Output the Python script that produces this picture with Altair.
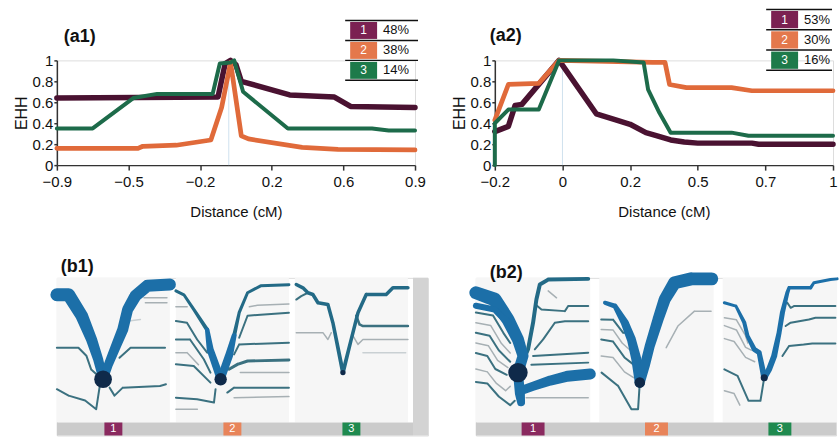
import altair as alt
import pandas as pd

# ---------------- EHH panels (a1, a2) ----------------
HAPLO = ["1", "2", "3"]
LINE_COLORS = ["#4a1231", "#e06a3a", "#1d6b4a"]
BOX_COLORS = ["#7b2152", "#e4784c", "#1d7a4a"]
BAR_BOX_COLORS = ["#8a2a5f", "#e8845a", "#1f8a4f"]
EHH_TICKS = [0, 0.2, 0.4, 0.6, 0.8, 1]

A1_TICKS = [-0.9, -0.5, -0.2, 0.2, 0.6, 0.9]
A1_PCT = ["48%", "38%", "14%"]
A1_CORE_X = -0.04
A1_X1 = [-0.9, -0.1, -0.06, -0.03, 0.0, 0.03, 0.3, 0.55, 0.63, 0.9]
A1_Y1 = [0.64, 0.65, 0.97, 1.0, 0.96, 0.80, 0.67, 0.65, 0.56, 0.55]
A1_X2 = [-0.9, -0.46, -0.44, -0.3, -0.14, -0.08, -0.03, 0.03, 0.07, 0.37, 0.57, 0.9]
A1_Y2 = [0.16, 0.16, 0.18, 0.19, 0.24, 0.55, 0.98, 0.28, 0.25, 0.17, 0.15, 0.145]
A1_X3 = [-0.9, -0.7, -0.48, -0.38, -0.13, -0.09, -0.03, -0.01, 0.04, 0.29, 0.72, 0.79, 0.9]
A1_Y3 = [0.35, 0.35, 0.64, 0.68, 0.68, 0.97, 0.98, 1.0, 0.70, 0.35, 0.35, 0.33, 0.33]

A2_TICKS = [-0.2, 0, 0.2, 0.5, 0.7, 1.0]
A2_PCT = ["53%", "30%", "16%"]
A2_CORE_X = 0.0
A2_X1 = [-0.2, -0.16, -0.14, -0.12, -0.01, 0.1, 0.16, 0.2, 0.27, 0.32, 0.38, 0.44, 0.5, 0.66, 0.68, 1.0]
A2_Y1 = [0.32, 0.37, 0.57, 0.58, 1.0, 0.49, 0.43, 0.39, 0.31, 0.28, 0.24, 0.22, 0.21, 0.21, 0.20, 0.20]
A2_X2 = [-0.2, -0.16, -0.07, -0.01, 0.3, 0.355, 0.375, 0.45, 0.6, 0.66, 1.0]
A2_Y2 = [0.43, 0.77, 0.78, 1.0, 0.98, 0.98, 0.77, 0.74, 0.74, 0.71, 0.71]
A2_X3 = [-0.2, -0.2, -0.16, -0.07, -0.01, 0.15, 0.26, 0.28, 0.33, 0.38, 0.6, 0.65, 1.0]
A2_Y3 = [0.0, 0.40, 0.53, 0.53, 1.0, 1.0, 0.98, 0.72, 0.50, 0.31, 0.31, 0.28, 0.28]

# ---------------- bifurcation diagrams (b1, b2) ----------------
# each path: (style, [(x, y[, width]), ...]) in panel-local units (0..1)
S11_CORE = (0.409, 0.299, 10)
S11_PATHS = [
    ("teal", [(0, 0.517), (0.191, 0.517), (0.261, 0.462), (0.304, 0.366), (0.365, 0.324)]),
    ("teal", [(0.554, 0.448), (0.652, 0.517), (0.957, 0.517)]),
    ("teal", [(0, 0.23), (0.104, 0.186), (0.25, 0.152), (0.348, 0.092), (0.38, 0.255)]),
    ("teal", [(0.467, 0.241), (0.51, 0.186), (0.583, 0.241), (0.913, 0.253), (0.965, 0.264)]),
    ("gray", [(0.771, 0.862), (0.974, 0.862)]),
    ("gray", [(0.783, 0.828), (0.974, 0.828)]),
    ("light", [(0.652, 0.703), (0.739, 0.712)]),
    ("thick", [(0, 0.883, 13), (0.104, 0.883, 13), (0.22, 0.738, 12.5), (0.307, 0.574, 11), (0.365, 0.437, 10), (0.409, 0.299, 9)]),
    ("thick", [(0.409, 0.299, 9), (0.452, 0.393, 9), (0.524, 0.531, 10), (0.583, 0.643, 11), (0.626, 0.781, 11), (0.696, 0.876, 12), (0.8, 0.945, 12), (1.0, 0.954, 12)]),
]
S12_CORE = (0.396, 0.299, 7)
S12_PATHS = [
    ("teal", [(0.56, 0.586), (0.634, 0.738), (0.75, 0.745), (1, 0.759)]),
    ("gray", [(0.65, 0.80), (0.72, 0.81), (1, 0.82)]),
    ("teal", [(0.515, 0.471), (0.56, 0.54), (1, 0.552)]),
    ("teal", [(0.47, 0.368, 3), (0.545, 0.402, 3), (0.634, 0.425, 3), (1, 0.432, 3)]),
    ("gray", [(0.57, 0.345), (1, 0.345)]),
    ("teal", [(0.455, 0.207), (0.515, 0.241), (1, 0.241)]),
    ("gray", [(0.515, 0.172), (1, 0.179)]),
    ("teal", [(0, 0.701), (0.098, 0.69), (0.188, 0.574), (0.277, 0.483)]),
    ("gray", [(0, 0.8), (0.1, 0.8)]),
    ("teal", [(0, 0.574), (0.125, 0.574), (0.247, 0.437), (0.306, 0.345)]),
    ("teal", [(0, 0.402), (0.158, 0.391), (0.306, 0.276)]),
    ("teal", [(0, 0.172), (0.188, 0.161), (0.337, 0.138), (0.351, 0.23)]),
    ("gray", [(0, 0.092), (0.19, 0.092)]),
    ("gray", [(0, 0.483), (0.1, 0.483), (0.2, 0.4)]),
    ("mid", [(0.0, 0.91, 3), (0.071, 0.883, 3), (0.161, 0.779, 3.2), (0.277, 0.641, 4)]),
    ("mid", [(0.515, 0.6, 4), (0.56, 0.759, 3.2), (0.634, 0.897, 3), (0.75, 0.945, 3), (1.0, 0.952, 3)]),
    ("thick", [(0.277, 0.641, 4.5), (0.304, 0.503, 7), (0.396, 0.299, 8)]),
    ("thick", [(0.396, 0.299, 8), (0.47, 0.462, 8), (0.515, 0.6, 5)]),
]
S13_CORE = (0.425, 0.345, 3)
S13_PATHS = [
    ("teal", [(0.543, 0.738, 2.5), (0.572, 0.678, 2.5), (0.602, 0.667, 2.5), (1, 0.667, 2.5)]),
    ("gray", [(0.513, 0.6), (0.558, 0.54), (0.602, 0.574), (1, 0.574)]),
    ("light", [(0.602, 0.483), (0.98, 0.483)]),
    ("gray", [(0.012, 0.621), (0.248, 0.621), (0.292, 0.574), (0.322, 0.621)]),
    ("teal", [(0.012, 0.85), (0.056, 0.874), (0.115, 0.897)]),
    ("mid", [(0.012, 0.954, 3.5), (0.071, 0.931, 3.5), (0.115, 0.897, 3.5), (0.159, 0.885, 3.5), (0.204, 0.828, 3.5), (0.292, 0.816, 3.5), (0.336, 0.69, 3.5), (0.425, 0.345, 4)]),
    ("mid", [(0.425, 0.345, 4), (0.498, 0.574, 3.5), (0.558, 0.759, 3.5), (0.631, 0.885, 3.5), (0.808, 0.885, 3.5), (0.867, 0.931, 3.5), (1.0, 0.931, 3.5)]),
]
S21_CORE = (0.368, 0.345, 11)
S21_PATHS = [
    ("teal", [(0.529, 0.81), (0.573, 0.781), (0.778, 0.77), (0.807, 0.805), (0.982, 0.805)]),
    ("teal", [(0.515, 0.506), (0.588, 0.575), (0.69, 0.69), (0.778, 0.70), (0.982, 0.70)]),
    ("teal", [(0.50, 0.46), (0.982, 0.483)]),
    ("teal", [(0.485, 0.40), (0.982, 0.414)]),
    ("gray", [(0.44, 0.172), (0.982, 0.172)]),
    ("gray", [(0.632, 0.91), (0.705, 0.862)]),
    ("teal", [(0, 0.76), (0.15, 0.74), (0.24, 0.62), (0.30, 0.55)]),
    ("gray", [(0, 0.69), (0.13, 0.67), (0.22, 0.55), (0.30, 0.48)]),
    ("teal", [(0, 0.62), (0.12, 0.6), (0.2, 0.5), (0.3, 0.42)]),
    ("gray", [(0, 0.55), (0.11, 0.53), (0.19, 0.43), (0.28, 0.38)]),
    ("teal", [(0, 0.48), (0.1, 0.46), (0.17, 0.37), (0.27, 0.33)]),
    ("gray", [(0, 0.37), (0.1, 0.35), (0.18, 0.27), (0.26, 0.22), (0.3, 0.25)]),
    ("teal", [(0, 0.28), (0.1, 0.27), (0.2, 0.18), (0.3, 0.12), (0.34, 0.15)]),
    ("mid", [(0.368, 0.345, 4), (0.456, 0.506, 4), (0.5, 0.69, 4), (0.529, 0.85, 4), (0.559, 0.954, 4), (0.632, 0.988, 4), (0.982, 0.993, 4)]),
    ("thick", [(0, 0.897, 13), (0.164, 0.85, 14), (0.281, 0.712, 13), (0.368, 0.574, 12), (0.412, 0.46, 11), (0.368, 0.345, 11)]),
    ("thick", [(0, 0.807, 6), (0.164, 0.781, 6), (0.281, 0.69, 7)]),
    ("thick", [(0.368, 0.345, 10), (0.385, 0.2, 10), (0.395, 0.14, 8)]),
    ("thick", [(0.39, 0.22, 9), (0.5, 0.25, 9), (0.65, 0.29, 10), (0.8, 0.32, 11), (1.0, 0.335, 11)]),
]
S22_CORE = (0.354, 0.276, 6)
S22_PATHS = [
    ("gray", [(0.585, 0.517), (0.687, 0.667), (0.832, 0.77), (0.977, 0.77)]),
    ("teal", [(0.017, 0.712), (0.122, 0.71), (0.209, 0.62), (0.25, 0.62)]),
    ("gray", [(0.017, 0.643), (0.12, 0.64), (0.2, 0.55), (0.27, 0.5)]),
    ("teal", [(0.017, 0.574), (0.12, 0.56), (0.22, 0.45), (0.3, 0.4)]),
    ("gray", [(0.017, 0.46), (0.12, 0.45), (0.22, 0.35), (0.3, 0.31)]),
    ("teal", [(0.02, 0.345), (0.165, 0.253), (0.281, 0.092), (0.339, 0.092), (0.354, 0.276)]),
    ("thick", [(0.05, 0.828, 4), (0.137, 0.805, 5), (0.223, 0.69, 8), (0.281, 0.574, 9), (0.324, 0.437, 10), (0.354, 0.276, 10)]),
    ("thick", [(0.354, 0.276, 10), (0.397, 0.391, 10), (0.441, 0.529, 10), (0.513, 0.712, 11), (0.571, 0.85, 12), (0.658, 0.966, 13), (0.803, 0.993, 13), (0.983, 0.993, 13)]),
]
S23_CORE = (0.363, 0.31, 4)
S23_PATHS = [
    ("teal", [(0.015, 0.368), (0.13, 0.322), (0.226, 0.15), (0.33, 0.15), (0.363, 0.31)]),
    ("teal", [(0.565, 0.828), (0.594, 0.793), (0.623, 0.805), (0.985, 0.805)]),
    ("teal", [(0.55, 0.667), (0.594, 0.69), (0.754, 0.712), (0.811, 0.724), (0.985, 0.724)]),
    ("teal", [(0.522, 0.46), (0.58, 0.529), (0.71, 0.54), (0.783, 0.547), (0.985, 0.547)]),
    ("gray", [(0.015, 0.724), (0.12, 0.71), (0.2, 0.6), (0.22, 0.55)]),
    ("gray", [(0.015, 0.67), (0.12, 0.64), (0.2, 0.52), (0.25, 0.5)]),
    ("gray", [(0.015, 0.58), (0.1, 0.56), (0.2, 0.45), (0.28, 0.42)]),
    ("gray", [(0.015, 0.22), (0.1, 0.2), (0.15, 0.12)]),
    ("thick", [(0.015, 0.828, 3), (0.116, 0.805, 3), (0.189, 0.69, 4), (0.217, 0.598, 4), (0.276, 0.506, 5), (0.319, 0.483, 5), (0.363, 0.31, 6)]),
    ("thick", [(0.363, 0.31, 6), (0.406, 0.368, 6), (0.45, 0.46, 6), (0.493, 0.621, 5), (0.522, 0.759, 5), (0.565, 0.897, 4), (0.58, 0.931, 3.5), (0.768, 0.931, 3.5), (0.797, 0.966, 3), (0.942, 0.988, 3), (1.0, 0.993, 3)]),
]

STYLE_C = {"thick": "#1c6fa8", "mid": "#236a86", "teal": "#3b7180", "gray": "#a7b0b4", "light": "#c9d0d3"}
STYLE_W = {"thick": 6, "mid": 3.2, "teal": 2, "gray": 1.5, "light": 1.5}
TOP_STYLES = ("thick", "mid")
CORE_C = "#0f2a4a"
PANEL_BG = "#f6f6f6"
BAR_GRAY = "#cbcbcb"
STRIP_GRAY = "#d3d3d3"
FONT = "Liberation Sans"


def axis_common(**kw):
    base = dict(labelFlush=False, labelOverlap=False, tickWidth=1.5, domainWidth=1.5,
                labelFontSize=15, labelFont=FONT, titleFontWeight="normal", titleFont=FONT, grid=False)
    base.update(kw)
    return alt.Axis(**base)


def y_axis(visible=True):
    col = "#333" if visible else "transparent"
    tcol = "#111" if visible else "transparent"
    return axis_common(values=EHH_TICKS, format="~g", title="EHH", tickSize=3, labelPadding=1,
                       titleFontSize=16, titlePadding=3, tickColor=col, domainColor=col,
                       labelColor=tcol, titleColor=tcol)


def ehh_panel(xs, ys, widths, ticks, core_x, pct, label, W, H, label_xy, lx, lrange, lw):
    rows = []
    for s, (xv, yv) in enumerate(zip(xs, ys)):
        for i, (x, y) in enumerate(zip(xv, yv)):
            rows.append({"s": HAPLO[s], "i": i, "x": x, "y": y})
    df = pd.DataFrame(rows)
    xscale = alt.Scale(domain=ticks, range=[W * k / 5 for k in range(6)], nice=False, zero=False)
    x_enc = alt.X("x:Q", scale=xscale, axis=axis_common(
        values=ticks, format="~g", title="Distance (cM)", tickSize=5, tickColor="#333", domainColor="#333",
        labelPadding=4, labelColor="#111", titleFontSize=15, titlePadding=15, titleColor="#111"))
    y_enc = alt.Y("y:Q", scale=alt.Scale(domain=[0, 1], nice=False, zero=False), axis=y_axis(True))
    rule = alt.Chart(pd.DataFrame({"x": [core_x]})).mark_rule(color="#cfe1ee", strokeWidth=1).encode(x=x_enc)
    lines = alt.Chart(df).mark_line(strokeJoin="round", strokeCap="round").encode(
        x=x_enc, y=y_enc,
        color=alt.Color("s:N", scale=alt.Scale(domain=HAPLO, range=LINE_COLORS), legend=None),
        strokeWidth=alt.StrokeWidth("s:O", scale=alt.Scale(domain=HAPLO, range=widths), legend=None),
        order=alt.Order("i:Q"))
    title = alt.Chart(pd.DataFrame({"t": [label]})).mark_text(
        align="left", baseline="alphabetic", fontSize=18, fontWeight="bold", font=FONT, color="#111"
    ).encode(text="t:N", x=alt.value(label_xy[0]), y=alt.value(label_xy[1]))

    leg = pd.DataFrame({"num": HAPLO, "pct": pct, "c": BOX_COLORS})
    row_scale = alt.Scale(domain=HAPLO, range=lrange, paddingInner=0.15, paddingOuter=0.075)
    ly = alt.Y("num:N", scale=row_scale, axis=None)
    boxes = alt.Chart(leg).mark_rect().encode(
        x=alt.value(lx), x2=alt.value(lx + 27), y=ly, color=alt.Color("c:N", scale=None))
    nums = alt.Chart(leg).mark_text(color="white", fontSize=12, font=FONT, align="center", baseline="middle").encode(
        x=alt.value(lx + 13.5), y=ly, text="num:N")
    pcts = alt.Chart(leg).mark_text(color="#111", fontSize=13, font=FONT, align="left", baseline="middle").encode(
        x=alt.value(lx + 33), y=ly, text="pct:N")
    rtop = alt.Chart(leg).mark_rule(color="#111", strokeWidth=1.5, yOffset=-1.5).encode(
        x=alt.value(lx - 5), x2=alt.value(lx + lw),
        y=alt.Y("num:N", scale=row_scale, axis=None, bandPosition=0))
    rbot = alt.Chart(leg).transform_filter("datum.num == '3'").mark_rule(color="#111", strokeWidth=1.5, yOffset=1.5).encode(
        x=alt.value(lx - 5), x2=alt.value(lx + lw),
        y=alt.Y("num:N", scale=row_scale, axis=None, bandPosition=1))
    return alt.layer(rule, lines, title, boxes, nums, pcts, rtop, rbot).resolve_scale(y="independent").properties(width=W, height=H)


def bif_block(panels, unit_w, gap, H_panel, H_bar, bar_w, strip_w, box_w, label, label_xy, with_axis):
    step = (unit_w + gap) / unit_w
    bar_end = bar_w / unit_w
    xmax = (bar_w + strip_w) / unit_w
    ymin = -H_bar / H_panel
    rows, cores, bgs, boxes = [], [], [], []
    pid = 0
    for p, (paths, core) in enumerate(panels):
        off = p * step
        for style, pts in paths:
            for i, pt in enumerate(pts):
                rows.append({"pid": pid, "i": i, "x": off + pt[0], "y": pt[1],
                             "w": pt[2] if len(pt) > 2 else STYLE_W[style],
                             "c": STYLE_C[style], "top": style in TOP_STYLES})
            pid += 1
        cores.append({"x": off + core[0], "y": core[1], "s": 3.1416 * core[2] ** 2})
        bgs.append({"x": off, "x2": off + 1, "y": 0, "y2": 1, "c": PANEL_BG})
        half = box_w / unit_w / 2
        boxes.append({"x": off + 0.5 - half, "x2": off + 0.5 + half, "xm": off + 0.5,
                      "y": ymin, "y2": 0, "ym": ymin / 2, "c": BAR_BOX_COLORS[p], "num": HAPLO[p]})
    bgs.append({"x": 0, "x2": bar_end, "y": ymin, "y2": 0, "c": BAR_GRAY})
    if strip_w:
        bgs.append({"x": bar_end, "x2": xmax, "y": ymin, "y2": 1, "c": STRIP_GRAY})
    xs = alt.Scale(domain=[0, xmax], nice=False, zero=False)
    ys = alt.Scale(domain=[ymin, 1], nice=False, zero=False)
    X = alt.X("x:Q", scale=xs, axis=None)
    Y = alt.Y("y:Q", scale=ys, axis=y_axis(False) if with_axis else None)
    df = pd.DataFrame(rows)
    enc = dict(x=X, y=Y, detail="pid:N", order=alt.Order("i:Q"),
               size=alt.Size("w:Q", scale=None), color=alt.Color("c:N", scale=None))
    bg = alt.Chart(pd.DataFrame(bgs)).mark_rect().encode(x=X, x2="x2:Q", y=Y, y2="y2:Q", color=alt.Color("c:N", scale=None))
    thin = alt.Chart(df).transform_filter("!datum.top").mark_trail().encode(**enc)
    thick = alt.Chart(df).transform_filter("datum.top").mark_trail().encode(**enc)
    core_l = alt.Chart(pd.DataFrame(cores)).mark_circle(color=CORE_C, opacity=1).encode(
        x=X, y=Y, size=alt.Size("s:Q", scale=None))
    bdf = pd.DataFrame(boxes)
    box_l = alt.Chart(bdf).mark_rect().encode(x=X, x2="x2:Q", y=Y, y2="y2:Q", color=alt.Color("c:N", scale=None))
    box_t = alt.Chart(bdf).mark_text(color="white", fontSize=11, font=FONT, baseline="middle", dy=0).encode(
        x=alt.X("xm:Q", scale=xs, axis=None), y=alt.Y("ym:Q", scale=ys, axis=None), text="num:N")
    ttl = alt.Chart(pd.DataFrame({"t": [label]})).mark_text(
        align="left", baseline="alphabetic", fontSize=18, fontWeight="bold", font=FONT, color="#111"
    ).encode(text="t:N", x=alt.value(label_xy[0]), y=alt.value(label_xy[1]))
    W = bar_w + strip_w
    return alt.layer(bg, thin, thick, core_l, box_l, box_t, ttl).properties(width=W, height=H_panel + H_bar)


a1 = ehh_panel([A1_X1, A1_X2, A1_X3], [A1_Y1, A1_Y2, A1_Y3], [5.5, 4, 5], A1_TICKS, A1_CORE_X, A1_PCT,
               "(a1)", 359, 105, (7, -18), 294, [-40, 20], 68)
a2 = ehh_panel([A2_X1, A2_X2, A2_X3], [A2_Y1, A2_Y2, A2_Y3], [3.5, 3.5, 3.5], A2_TICKS, A2_CORE_X, A2_PCT,
               "(a2)", 339, 105, (-5, -19), 277, [-51, 10], 61)
top = alt.hconcat(a1, a2, spacing=80, bounds="flush")

b1 = bif_block([(S11_PATHS, S11_CORE), (S12_PATHS, S12_CORE), (S13_PATHS, S13_CORE)],
               113.3, 6, 145, 13, 357, 15, 18, "(b1)", (4, -6), True)
b2 = bif_block([(S21_PATHS, S21_CORE), (S22_PATHS, S22_CORE), (S23_PATHS, S23_CORE)],
               114.7, 9, 145, 13, 361, 0, 23, "(b2)", (14, 0), False)
bottom = alt.hconcat(b1, b2, spacing=48, bounds="flush")

chart = alt.vconcat(top, bottom, spacing=37).properties(
    padding={"left": 12, "top": 7, "right": 0, "bottom": 0}
).configure_view(stroke=None).configure(font=FONT, background="white")

chart.save("out.html", embed_options={"renderer": "svg", "actions": False})
